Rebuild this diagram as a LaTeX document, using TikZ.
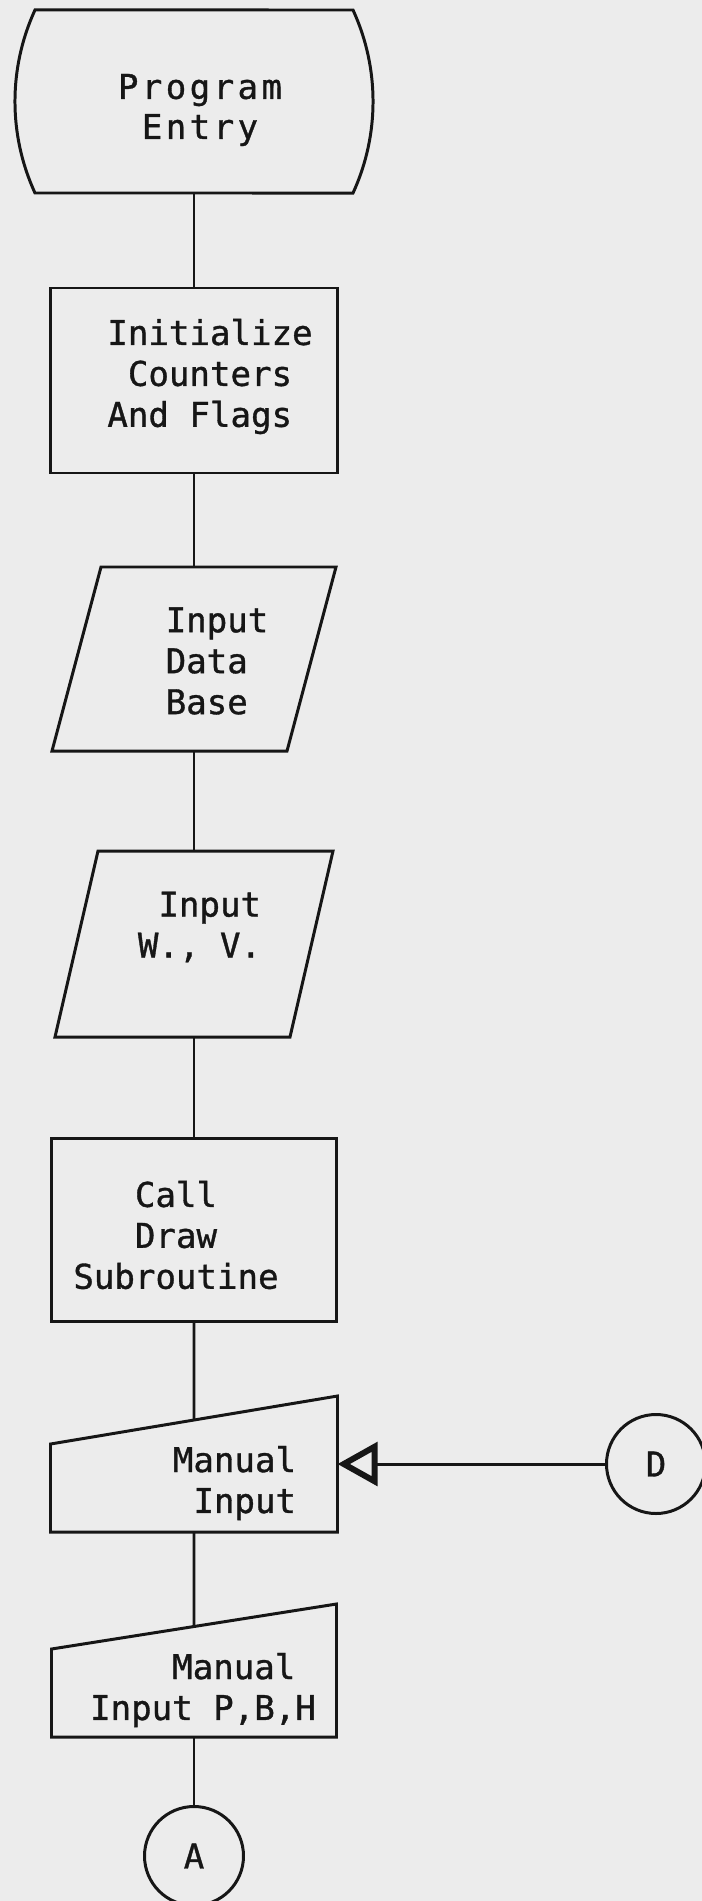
\documentclass[tikz,border=0pt]{standalone}
\usepackage{fontspec}
\newfontfamily\typer[FakeBold=1]{DejaVu Sans Mono}
\newfontfamily\typerwide[FakeBold=1,LetterSpace=10]{DejaVu Sans Mono}
\usetikzlibrary{positioning,arrows.meta,calc}
\definecolor{paper}{RGB}{236,236,236}
\definecolor{ink}{RGB}{22,22,22}
\tikzset{%
  flow/.style    = {draw=ink, line width=1.7pt},%
  hollow/.style  = {shape=rectangle, inner sep=0pt, outer sep=0pt},%
  procbox/.style = {hollow, draw=ink, line width=1.7pt},%
  txt/.style     = {font=\typer\fontsize{19.4}{23.3}\selectfont,%
                    text=ink, inner sep=0pt, align=center},%
  onpage/.style  = {circle, draw=ink, line width=1.7pt, inner sep=0pt,%
                    minimum size=1.98cm, txt}%
}

\begin{document}
\begin{tikzpicture}[node distance=1.9cm]
	\fill[paper] (0,0) rectangle (14.04,-38.02);
	\useasboundingbox (0,0) rectangle (14.04,-38.02);
	% main column
	\node[hollow, minimum width=6.36cm, minimum height=3.66cm,
		label={[txt, font={\typerwide\fontsize{19.4}{22.8}\selectfont},
		xshift=0.12cm, yshift=-0.17cm]center:Program\\Entry}] (entry) at (3.88,-2.03) {};
	\node[procbox, minimum width=5.74cm, minimum height=3.70cm, below=1.90cm of entry,
		label={[txt, align=left, xshift=0.32cm, yshift=0.08cm]center:Initialize\\~Counters\\And Flags}] (init) {};
	\node[hollow, minimum width=4.70cm, minimum height=3.68cm, below=1.88cm of init,
		label={[txt, align=left, xshift=0.46cm, yshift=-0.04cm]center:Input\\Data\\Base}] (base) {};
	\node[hollow, minimum width=4.70cm, minimum height=3.72cm, below=2.00cm of base,
		label={[txt, align=left, xshift=0.11cm, yshift=0.34cm]center:~Input\\W., V.}] (wv) {};
	\node[procbox, minimum width=5.70cm, minimum height=3.66cm, below=2.02cm of wv,
		label={[txt, xshift=-0.36cm, yshift=-0.11cm]center:Call\\Draw\\Subroutine}] (call) {};
	\node[hollow, minimum width=5.74cm, minimum height=2.72cm, below=1.50cm of call,
		label={[txt, align=right, xshift=0.81cm, yshift=-0.38cm]center:Manual\\Input}] (manual) {};
	\node[hollow, minimum width=5.70cm, minimum height=2.66cm, below=1.44cm of manual,
		label={[txt, align=left, xshift=0.18cm, yshift=-0.39cm]center:~~~~Manual\\Input P,B,H}] (pbh) {};
	\node[onpage, below=1.36cm of pbh] (conA) {A};
	\node[onpage, right=5.35cm of manual] (conD) {D};
	% outlines
	\draw[flow] (entry.north east)
		arc[start angle=24.7, end angle=-24.7, radius=4.38cm] -- (entry.south west)
		arc[start angle=204.7, end angle=155.3, radius=4.38cm] -- cycle;
	\foreach \n/\s in {base/0.49cm, wv/0.43cm}
		\draw[flow] ([xshift=\s]\n.north west) -- ([xshift=\s]\n.north east)
			-- ([xshift=-\s]\n.south east) -- ([xshift=-\s]\n.south west) -- cycle;
	\foreach \n/\d in {manual/0.96cm, pbh/0.90cm}{
		\draw[flow] (\n.south west) -- ([yshift=-\d]\n.north west)
			-- (\n.north east) -- (\n.south east) -- cycle;
		\coordinate (top \n) at ($([yshift=-\d]\n.north west)!0.5!(\n.north east)$);
	}
	% connectors
	\draw[flow] (entry) -- (init);
	\draw[flow] (init) -- (base);
	\draw[flow] (base) -- (wv);
	\draw[flow] (wv) -- (call);
	\draw[flow] (call) -- (top manual);
	\draw[flow] (manual) -- (top pbh);
	\draw[flow] (pbh) -- (conA);
	\draw[flow, -{Triangle[open, length=0.8cm, width=0.86cm, line width=3.4pt]}] (conD) -- (manual);
\end{tikzpicture}
\end{document}
